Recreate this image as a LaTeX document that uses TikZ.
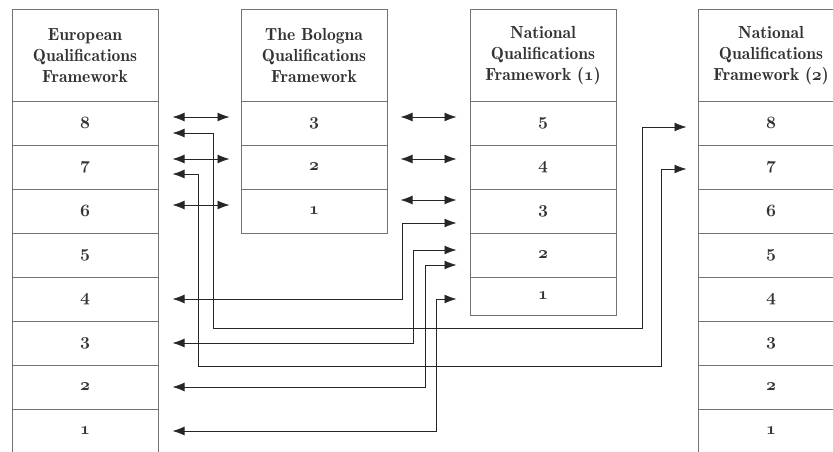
\documentclass[tikz,border=0pt]{standalone}
\usetikzlibrary{arrows.meta}
\newcommand\lvl[1]{{\usefont{OML}{cmm}{b}{it}#1}}
\tikzset{
  cell/.style={draw=black!55, line width=1pt, minimum width=146pt, minimum height=44pt, inner sep=0pt, text=black!80, font=\fontsize{16}{18}\selectfont},
  head/.style={cell, minimum height=91pt, align=center, font=\fontsize{17.5}{21}\fontseries{b}\selectfont},
  link/.style={draw=black!85, line width=.9pt, <->},
}
\begin{document}
\begin{tikzpicture}[x=1pt,y=-1pt,>={Latex[length=12pt,width=9pt]}]
\useasboundingbox (0,0) rectangle (833,452);
% European framework
\node[head] (eqf) at (85,55.5) {European\\Qualifications\\Framework};
\node[cell] (eqf8) at (85,123) {\lvl{8}};
\node[cell] (eqf7) at (85,167) {\lvl{7}};
\node[cell] (eqf6) at (85,211) {\lvl{6}};
\node[cell] (eqf5) at (85,255) {\lvl{5}};
\node[cell] (eqf4) at (85,299) {\lvl{4}};
\node[cell] (eqf3) at (85,343) {\lvl{3}};
\node[cell] (eqf2) at (85,387) {\lvl{2}};
\node[cell] (eqf1) at (85,431) {\lvl{1}};
% Bologna framework
\node[head] (bol) at (314,55.5) {The Bologna\\Qualifications\\Framework};
\node[cell] (bol3) at (314,123) {\lvl{3}};
\node[cell] (bol2) at (314,167) {\lvl{2}};
\node[cell] (bol1) at (314,211) {\lvl{1}};
% national framework (1)
\node[head] (nqfa) at (543,55.5) {National\\Qualifications\\Framework (\lvl{1})};
\node[cell] (nqfa5) at (543,123) {\lvl{5}};
\node[cell] (nqfa4) at (543,167) {\lvl{4}};
\node[cell] (nqfa3) at (543,211) {\lvl{3}};
\node[cell] (nqfa2) at (543,255) {\lvl{2}};
\node[cell, minimum height=38pt] (nqfa1) at (543,296) {\lvl{1}};
% national framework (2)
\node[head] (nqfb) at (771,55.5) {National\\Qualifications\\Framework (\lvl{2})};
\node[cell] (nqfb8) at (771,123) {\lvl{8}};
\node[cell] (nqfb7) at (771,167) {\lvl{7}};
\node[cell] (nqfb6) at (771,211) {\lvl{6}};
\node[cell] (nqfb5) at (771,255) {\lvl{5}};
\node[cell] (nqfb4) at (771,299) {\lvl{4}};
\node[cell] (nqfb3) at (771,343) {\lvl{3}};
\node[cell] (nqfb2) at (771,387) {\lvl{2}};
\node[cell] (nqfb1) at (771,431) {\lvl{1}};
% straight links
\draw[link] ([xshift=14pt,yshift=6pt]eqf8.east) -- ([xshift=-11pt,yshift=6pt]bol3.west);
\draw[link] ([xshift=14pt,yshift=8pt]eqf7.east) -- ([xshift=-11pt,yshift=8pt]bol2.west);
\draw[link] ([xshift=14pt,yshift=6pt]eqf6.east) -- ([xshift=-11pt,yshift=6pt]bol1.west);
\draw[link] ([xshift=13pt,yshift=6pt]bol3.east) -- ([xshift=-13pt,yshift=6pt]nqfa5.west);
\draw[link] ([xshift=13pt,yshift=8pt]bol2.east) -- ([xshift=-13pt,yshift=8pt]nqfa4.west);
\draw[link] ([xshift=13pt,yshift=11pt]bol1.east) -- ([xshift=-13pt,yshift=11pt]nqfa3.west);
% routed links
\draw[link] ([xshift=14pt]eqf4.east) -- ++(230,0) |- ([xshift=-13pt,yshift=-12pt]nqfa3.west);
\draw[link] ([xshift=14pt]eqf3.east) -- ++(241,0) |- ([xshift=-13pt,yshift=5pt]nqfa2.west);
\draw[link] ([xshift=14pt]eqf2.east) -- ++(253,0) |- ([xshift=-13pt,yshift=-10pt]nqfa2.west);
\draw[link] ([xshift=14pt]eqf1.east) -- ++(264,0) |- ([xshift=-13pt,yshift=-3pt]nqfa1.west);
\draw[link] ([xshift=14pt,yshift=-10pt]eqf8.east) -- ++(41,0) -- ++(0,195) -| ([xshift=-55pt,yshift=-4pt]nqfb8.west) -- ([xshift=-11pt,yshift=-4pt]nqfb8.west);
\draw[link] ([xshift=14pt,yshift=-7pt]eqf7.east) -- ++(26,0) -- ++(0,192) -| ([xshift=-36pt,yshift=-2pt]nqfb7.west) -- ([xshift=-11pt,yshift=-2pt]nqfb7.west);
\end{tikzpicture}
\end{document}
